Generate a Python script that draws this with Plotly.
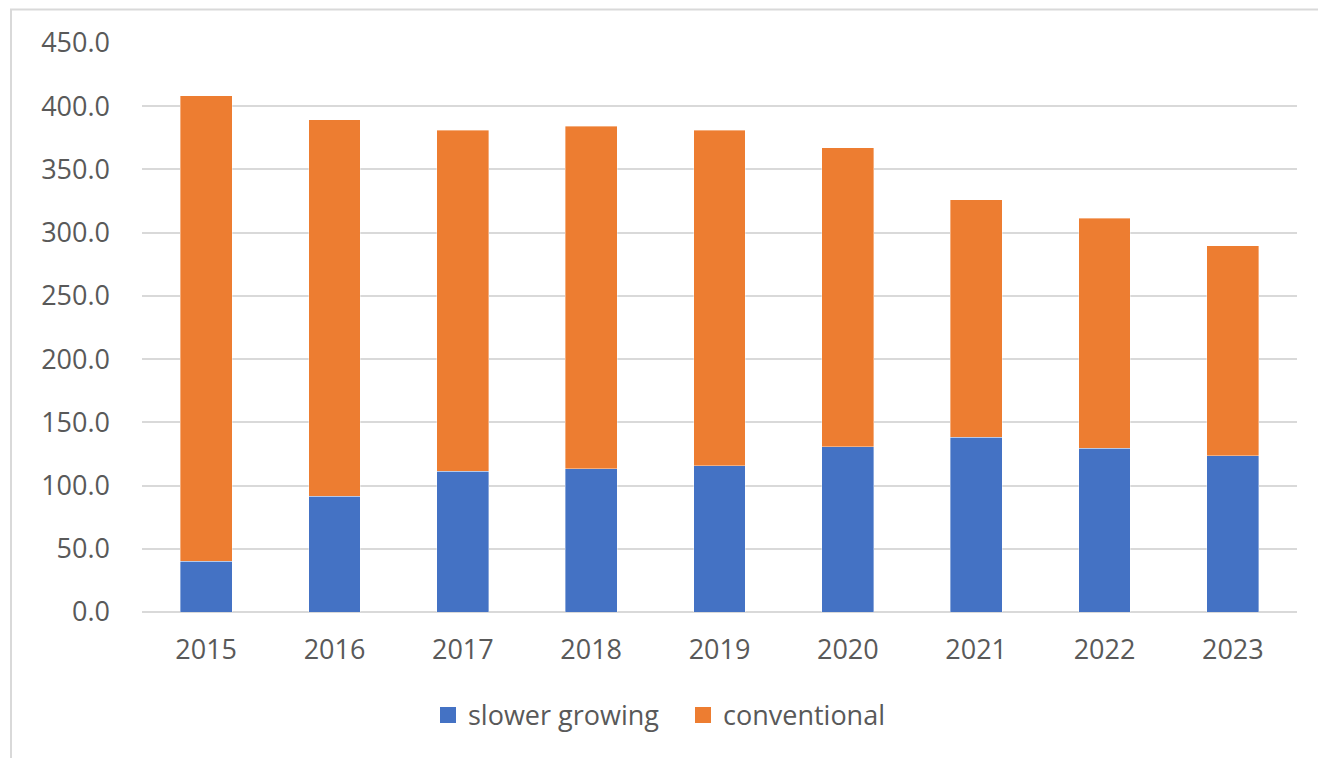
import plotly.graph_objects as go

years = ["2015", "2016", "2017", "2018", "2019", "2020", "2021", "2022", "2023"]
slower_growing = [40.3, 91.7, 111.5, 113.1, 115.5, 130.5, 138.4, 129.7, 123.4]
conventional = [367.8, 297.7, 269.5, 271.0, 265.5, 236.8, 187.8, 181.7, 166.4]
y_ticks = [0, 50, 100, 150, 200, 250, 300, 350, 400, 450]

BLUE = "#4472C4"
ORANGE = "#ED7D31"
TXT = "#595959"
GRID = "#D9D9D9"
FONT = "Open Sans"
FS = 27

fig = go.Figure()
fig.add_trace(go.Bar(x=years, y=slower_growing, name="slower growing",
                     marker=dict(color=BLUE, line=dict(color="rgba(255,255,255,0.5)", width=0.75)),
                     showlegend=False))
fig.add_trace(go.Bar(x=years, y=conventional, name="conventional",
                     marker=dict(color=ORANGE, line=dict(color="rgba(255,255,255,0.5)", width=0.75)),
                     showlegend=False))
# legend entries with larger square symbols
fig.add_trace(go.Scatter(x=[None], y=[None], mode="markers", name="slower growing",
                         marker=dict(symbol="square", size=17, color=BLUE)))
fig.add_trace(go.Scatter(x=[None], y=[None], mode="markers", name="conventional",
                         marker=dict(symbol="square", size=17, color=ORANGE)))

# page body has an 8px margin: convert screen pixels to figure pixels
OFF = 8
W, H = 1326, 758
PL, PR, PT, PB = 142 - OFF, 1297 - OFF, 43 - OFF, 611.7 - OFF  # plot area in figure px
L, R, T, B = PL, W - PR, PT, H - PB
ph = PB - PT


def px_x(p):
    return (p - OFF - PL) / (PR - PL)


def px_y(p):
    return (PB - (p - OFF)) / ph


fig.update_layout(
    width=W, height=H,
    margin=dict(l=L, r=R, t=T, b=B, pad=0),
    barmode="stack",
    bargap=0.595,
    plot_bgcolor="white",
    paper_bgcolor="white",
    font=dict(family=FONT, size=FS, color=TXT),
    showlegend=True,
    legend=dict(orientation="h", x=px_x(428), xanchor="left", y=px_y(715), yanchor="middle",
                font=dict(family=FONT, size=FS, color=TXT), itemsizing="trace",
                entrywidth=210, entrywidthmode="pixels",
                bgcolor="rgba(0,0,0,0)", traceorder="normal"),
    xaxis=dict(type="category", showgrid=False, showline=False, zeroline=False,
               ticks="", tickfont=dict(family=FONT, size=FS, color=TXT),
               ticklabelstandoff=19, fixedrange=True),
    yaxis=dict(range=[0, 450], tickvals=y_ticks, ticktext=[f"{v:.1f}" for v in y_ticks],
               showgrid=True, gridcolor=GRID, gridwidth=1.5,
               zeroline=True, zerolinecolor=GRID, zerolinewidth=1.5,
               showline=False, ticks="", tickfont=dict(family=FONT, size=FS, color=TXT),
               ticklabelstandoff=31, fixedrange=True),
    shapes=[dict(type="rect", xref="paper", yref="paper",
                 x0=px_x(11), x1=px_x(1400), y0=px_y(820), y1=px_y(9.5),
                 line=dict(color=GRID, width=2), fillcolor="rgba(0,0,0,0)", layer="below")],
)

fig.write_html("out.html")
